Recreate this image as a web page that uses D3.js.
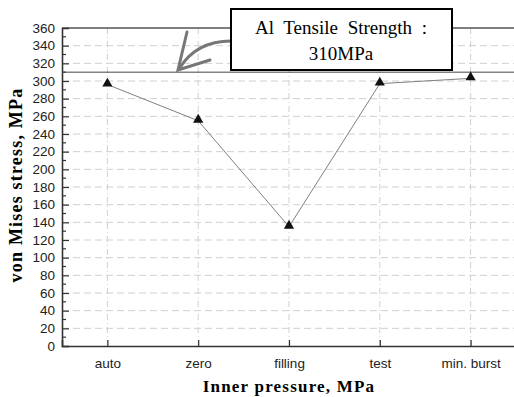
<!DOCTYPE html>
<html>
<head>
<meta charset="utf-8">
<script src="https://d3js.org/d3.v7.min.js"></script>
<style>
  body { margin: 0; background: #fff; }
</style>
</head>
<body>
<script>
// data
const categories = ["auto", "zero", "filling", "test", "min. burst"];
const stress = [296, 255, 135, 297, 303];
const yTicks = d3.range(0, 361, 20);
const limitValue = 310;
const limitLabel = ["Al Tensile Strength :", "310MPa"];

const width = 514, height = 397;
const mLeft = 62, mRight = 516, mTop = 28, mBottom = 346;

const svg = d3.select("body").append("svg")
    .attr("width", width)
    .attr("height", height);

const x = d3.scalePoint().domain(categories).range([mLeft, mRight]).padding(0.5);
const y = d3.scaleLinear().domain([0, 360]).range([mBottom, mTop]);

// grid
svg.append("g").selectAll("line")
    .data(yTicks.filter(d => d > 0 && d < 360))
    .join("line")
    .attr("x1", mLeft).attr("x2", mRight)
    .attr("y1", d => y(d)).attr("y2", d => y(d))
    .attr("stroke", "#d0d0d0")
    .attr("stroke-dasharray", "7,4");

svg.append("g").selectAll("line")
    .data(categories)
    .join("line")
    .attr("x1", d => x(d)).attr("x2", d => x(d))
    .attr("y1", mTop).attr("y2", mBottom)
    .attr("stroke", "#d0d0d0")
    .attr("stroke-dasharray", "6,3,1,3");

// top frame line
svg.append("line")
    .attr("x1", mLeft).attr("x2", mRight)
    .attr("y1", mTop).attr("y2", mTop)
    .attr("stroke", "#555").attr("stroke-width", 1.5);

// y axis
const yAxis = svg.append("g")
    .attr("transform", `translate(${mLeft},0)`)
    .call(d3.axisLeft(y).tickValues(yTicks).tickSize(-7).tickPadding(7));
yAxis.selectAll(".tick:last-child line").remove();
yAxis.append("g").selectAll("line")
    .data(d3.range(10, 360, 20))
    .join("line")
    .attr("x1", 0).attr("x2", 4)
    .attr("y1", d => y(d)).attr("y2", d => y(d))
    .attr("stroke", "#333").attr("stroke-width", 1.2);

// x axis
const xAxis = svg.append("g")
    .attr("transform", `translate(0,${mBottom})`)
    .call(d3.axisBottom(x).tickSize(-6).tickPadding(12));

[yAxis, xAxis].forEach(a => {
  a.select(".domain").attr("stroke", "#333").attr("stroke-width", 1.6);
  a.selectAll(".tick line").attr("stroke", "#333").attr("stroke-width", 1.2);
  a.selectAll("text")
      .attr("fill", "#222")
      .style("font-family", "Liberation Sans, Arial, sans-serif")
      .style("font-size", "13.5px");
});

// limit line
svg.append("line")
    .attr("x1", mLeft).attr("x2", mRight)
    .attr("y1", y(limitValue)).attr("y2", y(limitValue))
    .attr("stroke", "#444").attr("stroke-width", 1);

// series
const pts = categories.map((c, i) => [x(c), y(stress[i])]);
svg.append("path")
    .attr("d", d3.line()(pts))
    .attr("fill", "none")
    .attr("stroke", "#808080")
    .attr("stroke-width", 1);

svg.append("g").selectAll("path")
    .data(pts)
    .join("path")
    .attr("transform", d => `translate(${d[0]},${d[1] - 1})`)
    .attr("d", d3.symbol(d3.symbolTriangle, 45))
    .attr("fill", "#111");

// annotation arrow
const arrow = svg.append("g")
    .attr("fill", "none")
    .attr("stroke", "#777")
    .attr("stroke-width", 3)
    .attr("stroke-linecap", "round");
arrow.append("path").attr("d", "M231,41 Q196,41 179,69");
arrow.append("path").attr("d", "M187,32 L178,70 L210,60");

// annotation box
svg.append("rect")
    .attr("x", 231).attr("y", 9)
    .attr("width", 221).attr("height", 61)
    .attr("fill", "#fff")
    .attr("stroke", "#000")
    .attr("stroke-width", 2);

svg.append("g").selectAll("text")
    .data(limitLabel)
    .join("text")
    .attr("x", 341)
    .attr("y", (d, i) => 34 + i * 26)
    .attr("text-anchor", "middle")
    .style("font-family", "Liberation Serif, Times New Roman, serif")
    .style("font-size", "19px")
    .style("word-spacing", (d, i) => i === 0 ? "5px" : "0px")
    .text(d => d);

// axis titles
svg.append("text")
    .attr("x", x("filling"))
    .attr("y", 392)
    .attr("text-anchor", "middle")
    .style("font-family", "Liberation Serif, Times New Roman, serif")
    .style("font-weight", "bold")
    .style("font-size", "17px")
    .style("letter-spacing", "1.2px")
    .text("Inner pressure, MPa");

svg.append("text")
    .attr("transform", `translate(22,185) rotate(-90)`)
    .attr("text-anchor", "middle")
    .style("font-family", "Liberation Serif, Times New Roman, serif")
    .style("font-weight", "bold")
    .style("font-size", "18px")
    .style("letter-spacing", "1.2px")
    .text("von Mises stress, MPa");
</script>
</body>
</html>
